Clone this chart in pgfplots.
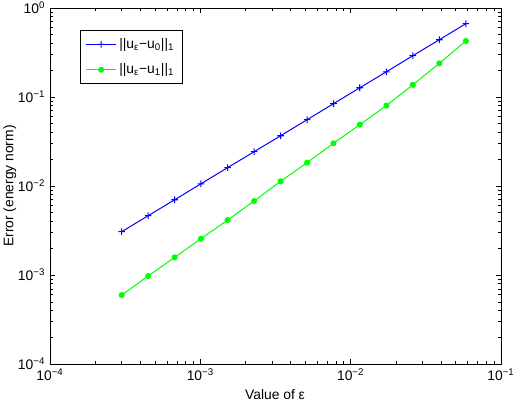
\documentclass[border=0pt]{standalone}
\usepackage{fontspec}
\setmainfont{Liberation Sans}
\usepackage{pgfplots}
\pgfplotsset{compat=1.18}

% error of the zeroth- and first-order approximations against epsilon
\pgfplotstableread{
eps      err
3.00e-4  3.07e-3
4.50e-4  4.64e-3
6.75e-4  7.01e-3
1.01e-3  1.06e-2
1.52e-3  1.61e-2
2.28e-3  2.43e-2
3.42e-3  3.67e-2
5.13e-3  5.56e-2
7.69e-3  8.41e-2
1.15e-2  1.27e-1
1.73e-2  1.92e-1
2.59e-2  2.91e-1
3.89e-2  4.40e-1
5.84e-2  6.66e-1
}\errzero

\pgfplotstableread{
eps      err
3.00e-4  5.96e-4
4.50e-4  9.75e-4
6.75e-4  1.58e-3
1.01e-3  2.56e-3
1.52e-3  4.15e-3
2.28e-3  6.78e-3
3.42e-3  1.13e-2
5.13e-3  1.83e-2
7.69e-3  3.02e-2
1.15e-2  4.89e-2
1.73e-2  8.02e-2
2.59e-2  1.37e-1
3.89e-2  2.39e-1
5.84e-2  4.26e-1
}\errone

\definecolor{mblue}{rgb}{0,0,1}
\definecolor{mgreen}{rgb}{0,1,0}

% plus-shaped mark built from two filled bars
\pgfdeclareplotmark{bplus}{%
  \pgfsetfillcolor{mblue}%
  \pgfpathrectangle{\pgfqpoint{-\pgfplotmarksize}{-0.4pt}}{\pgfqpoint{2\pgfplotmarksize}{0.8pt}}%
  \pgfpathrectangle{\pgfqpoint{-0.4pt}{-\pgfplotmarksize}}{\pgfqpoint{0.8pt}{2\pgfplotmarksize}}%
  \pgfusepathqfill}

\begin{document}
\fontsize{10.5}{12}\selectfont
\begin{tikzpicture}
\begin{loglogaxis}[
  scale only axis,
  width=342pt, height=270pt,
  xmin=1e-4, xmax=1e-1,
  ymin=1e-4, ymax=1,
  xtick={1e-4,1e-3,1e-2,1e-1},
  xticklabels={10\textsuperscript{−4},10\textsuperscript{−3},10\textsuperscript{−2},10\textsuperscript{−1}},
  ytick={1e-4,1e-3,1e-2,1e-1,1},
  yticklabels={10\textsuperscript{−4},10\textsuperscript{−3},10\textsuperscript{−2},10\textsuperscript{−1},10\textsuperscript{0}},
  tick align=inside,
  major tick length=4pt,
  minor tick length=2.2pt,
  every tick/.style={black, line width=0.5pt},
  axis line style={black, line width=0.6pt},
  tick label style={font=\fontsize{10.5}{12}\selectfont},
  label style={font=\fontsize{10.5}{12}\selectfont},
  xlabel={Value of ε},
  ylabel={Error (energy norm)},
  xlabel style={at={(axis description cs:0.499,-0.0992)}, anchor=base},
  ylabel style={at={(axis description cs:-0.089,0.5)}, anchor=center},
  legend style={
    at={(0.0665,0.938)}, anchor=north west,
    draw=black, line width=0.6pt,
    font=\fontsize{10.5}{12}\selectfont,
    row sep=6pt, inner sep=4pt,
  },
  legend cell align=left,
  legend image code/.code={%
    \draw[mark repeat=2, mark phase=2, #1]
      plot coordinates {(0cm,0cm) (0.4cm,0cm) (0.8cm,0cm)};},
]
\addplot[color=mblue, line width=0.75pt, mark=bplus, mark size=2.5pt,
         mark options={fill=mblue}]
  table[x=eps, y=err] {\errzero};
\addlegendentry{\textbar\textbar u\textsubscript{ε}−u\textsubscript{0}\textbar\textbar\textsubscript{1}}
\addplot[color=mgreen, line width=0.75pt, mark=*, mark size=1.9pt,
         mark options={fill=mgreen, draw=mgreen}]
  table[x=eps, y=err] {\errone};
\addlegendentry{\textbar\textbar u\textsubscript{ε}−u\textsubscript{1}\textbar\textbar\textsubscript{1}}
\end{loglogaxis}
\pgfresetboundingbox
\path[use as bounding box]
  ([shift={(-37.9pt,-33.4pt)}]current axis.south west)
  rectangle ([shift={(9.86pt,6.07pt)}]current axis.north east);
\end{tikzpicture}
\end{document}
